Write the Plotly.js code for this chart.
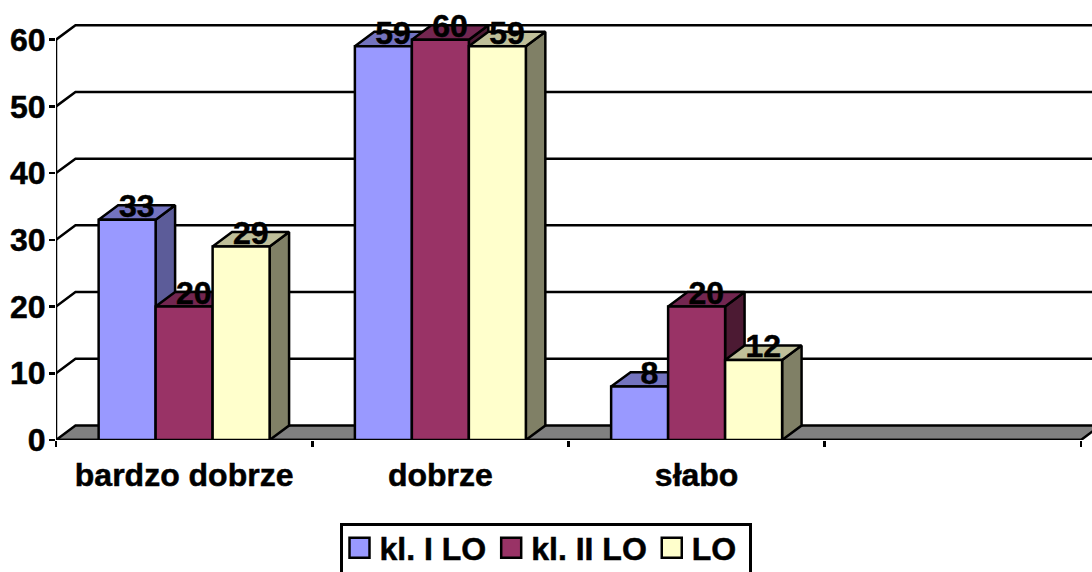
<!DOCTYPE html>
<html>
<head>
<meta charset="utf-8">
<script src="https://cdn.plot.ly/plotly-3.0.1.min.js"></script>
<style>html,body{margin:0;padding:0;background:#fff;overflow:hidden}#chart{width:1092px;height:572px}
svg text{stroke:#000;stroke-width:0.5px}</style>
</head>
<body>
<div id="chart"></div>
<script>
const categories = ['bardzo dobrze', 'dobrze', 'słabo'];
const categoryPositions = [0.5, 1.5, 2.5];
const categoryEdges = [0, 1, 2, 3, 4];
const yTicks = [0, 10, 20, 30, 40, 50, 60];
const seriesNames = ['kl. I LO', 'kl. II LO', 'LO'];
const klILO = [33, 59, 8];
const klIILO = [20, 60, 20];
const LO = [29, 59, 12];
const seriesValues = [klILO, klIILO, LO];
const frontColors = ['#9999FF', '#993366', '#FFFFCC'];
const topColors = ['#7373BF', '#732650', '#BFBF99'];
const sideColors = ['#5C5C99', '#4C1A33', '#808066'];

// pseudo-3D depth, in axis units
const DX = 0.076, DY = 2.17;
const LABEL_DY = 1.6;
const BAR_W = 0.2224;
const XMAX = 4.043, YMAX = (440.5 - 20) / 6.68;
const LW = 2.5;

function poly(xs, ys, fill) {
  return {type: 'scatter', mode: 'lines', x: xs, y: ys, fill: 'toself', fillcolor: fill,
    line: {color: '#000', width: LW}, showlegend: false, hoverinfo: 'skip', cliponaxis: false};
}
function line(xs, ys) {
  return {type: 'scatter', mode: 'lines', x: xs, y: ys,
    line: {color: '#000', width: LW}, showlegend: false, hoverinfo: 'skip', cliponaxis: false};
}

const traces = [];
// back-wall gridlines
yTicks.slice(1).forEach(v => traces.push(line([0, DX, XMAX + 1], [v, v + DY, v + DY])));
// floor
traces.push(poly([0, DX, 4 + DX, 4, 0], [0, DY, DY, 0, 0], '#808080'));
// axis lines
traces.push(line([0, 0], [0, yTicks[yTicks.length - 1]]));
traces.push(line([0, 4], [0, 0]));

// top and side faces
seriesValues.forEach((vals, s) => {
  vals.forEach((v, c) => {
    const left = categoryPositions[c] + (s - 1.5) * BAR_W;
    const right = left + BAR_W;
    traces.push(poly([right, right + DX, right + DX, right, right], [0, DY, v + DY, v, 0], sideColors[s]));
    traces.push(poly([left, left + DX, right + DX, right, left], [v, v + DY, v + DY, v, v], topColors[s]));
  });
});

// front faces: real bars on an overlaid pair of axes
seriesValues.forEach((vals, s) => {
  traces.push({type: 'bar', x: categoryPositions, y: vals, name: seriesNames[s], xaxis: 'x2', yaxis: 'y2',
    marker: {color: frontColors[s], line: {color: '#000', width: LW}},
    showlegend: false, hoverinfo: 'skip', cliponaxis: false});
});

// legend entries
seriesValues.forEach((vals, s) => {
  traces.push({type: 'scatter', mode: 'markers', x: [null], y: [null], name: seriesNames[s],
    marker: {symbol: 'square', size: 16, color: frontColors[s], line: {color: '#000', width: 2}},
    hoverinfo: 'skip'});
});

// data labels
seriesValues.forEach((vals, s) => {
  traces.push({type: 'scatter', mode: 'text', xaxis: 'x2', yaxis: 'y2',
    x: vals.map((v, c) => categoryPositions[c] + (s - 1) * BAR_W + DX / 2),
    y: vals.map(v => v + LABEL_DY),
    text: vals.map(String), textposition: 'middle center',
    textfont: {family: 'Liberation Sans', size: 32, weight: 700, color: '#000'},
    showlegend: false, hoverinfo: 'skip', cliponaxis: false});
});

const bigFont = {family: 'Liberation Sans', size: 32, weight: 700, color: '#000'};
const layout = {
  width: 1092, height: 572, paper_bgcolor: '#fff', plot_bgcolor: '#fff',
  margin: {l: 56, r: 0, t: 20, b: 131.5, pad: 0, autoexpand: false},
  barmode: 'group', bargap: 1 - 3 * BAR_W, bargroupgap: 0,
  showlegend: true,
  legend: {orientation: 'h', xref: 'container', yref: 'container', x: 340 / 1092, xanchor: 'left', y: 1 - 523 / 572, yanchor: 'top',
    font: bigFont, bordercolor: '#000', borderwidth: LW, bgcolor: '#fff',
    itemsizing: 'trace', traceorder: 'normal'},
  xaxis: {range: [0, XMAX], tickmode: 'array', tickvals: categoryPositions, ticktext: categories,
    ticks: '', showgrid: false, zeroline: false, showline: false, tickfont: bigFont, ticklabelstandoff: 13,
    minor: {tickmode: 'array', tickvals: categoryEdges, ticks: 'outside', ticklen: 6, tickwidth: LW, tickcolor: '#000', showgrid: false}},
  yaxis: {range: [0, YMAX], tickmode: 'array', tickvals: yTicks, ticks: 'outside', ticklen: 6, tickwidth: LW,
    tickcolor: '#000', showgrid: false, zeroline: false, showline: false, tickfont: bigFont, ticklabelstandoff: -3},
  xaxis2: {range: [0, XMAX], overlaying: 'x', visible: false},
  yaxis2: {range: [0, YMAX], overlaying: 'y', visible: false}
};
Plotly.newPlot('chart', traces, layout, {displayModeBar: false, staticPlot: true}).then(() => {
  document.querySelectorAll('#chart .legendpoints path').forEach(p => {
    const t = p.getAttribute('transform') || '';
    p.setAttribute('transform', t + ' scale(1.25)');
  });
  document.querySelectorAll('#chart .legend .traces').forEach(g => {
    const t = g.getAttribute('transform') || '';
    g.setAttribute('transform', t + ' translate(-3,-5)');
  });
  const bg = document.querySelector('#chart .legend .bg');
  if (bg) bg.setAttribute('width', 409);
});
</script>
</body>
</html>
